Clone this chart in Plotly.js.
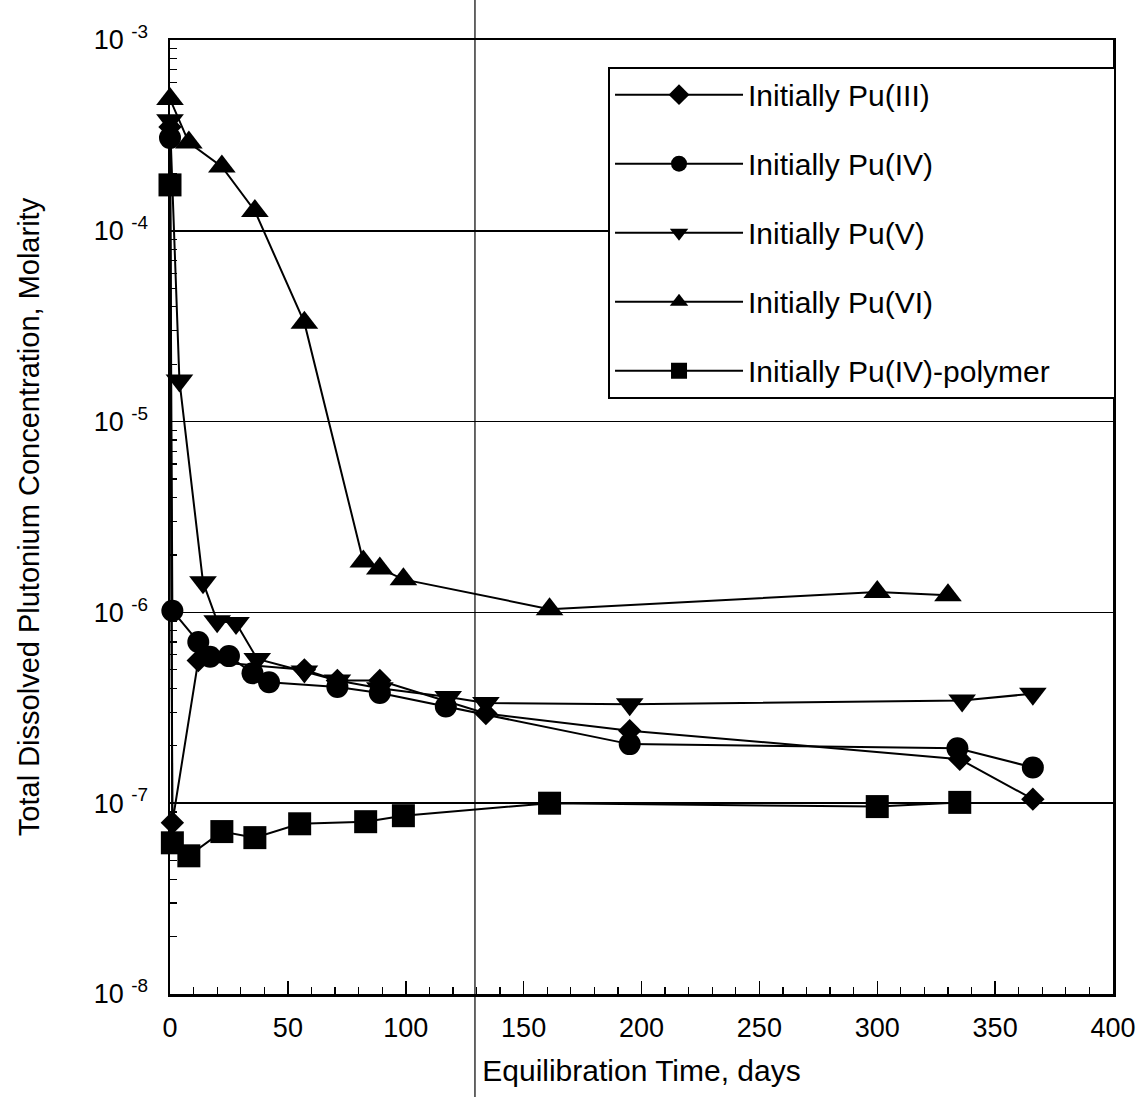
<!DOCTYPE html>
<html>
<head>
<meta charset="utf-8">
<script src="https://cdn.plot.ly/plotly-3.0.1.min.js"></script>
<style>
  html, body { margin: 0; padding: 0; background: #fff; }
  #chart { width: 1145px; height: 1097px; }
</style>
</head>
<body>
<div id="chart"></div>
<script>
// ---- Data ----
const seriesNames = ["Initially Pu(III)", "Initially Pu(IV)", "Initially Pu(V)", "Initially Pu(VI)", "Initially Pu(IV)-polymer"];

const puIIIDays = [0, 1, 12, 57, 71, 89, 134, 195, 335, 366];
const puIIIConc = [3.5e-4, 7.9e-8, 5.6e-7, 5.0e-7, 4.4e-7, 4.4e-7, 2.95e-7, 2.4e-7, 1.7e-7, 1.05e-7];

const puIVDays = [0, 1, 12, 17, 25, 35, 42, 71, 89, 117, 195, 334, 366];
const puIVConc = [3.07e-4, 1.02e-6, 7.0e-7, 5.85e-7, 5.9e-7, 4.8e-7, 4.3e-7, 4.07e-7, 3.78e-7, 3.21e-7, 2.04e-7, 1.94e-7, 1.54e-7];

const puVDays = [0, 4, 14, 20, 28, 37, 57, 71, 89, 118, 134, 195, 336, 366];
const puVConc = [3.8e-4, 1.64e-5, 1.44e-6, 9.0e-7, 8.8e-7, 5.7e-7, 4.9e-7, 4.4e-7, 4.0e-7, 3.6e-7, 3.35e-7, 3.3e-7, 3.45e-7, 3.75e-7];

const puVIDays = [0, 8, 22, 36, 57, 82, 89, 99, 161, 300, 330];
const puVIConc = [4.9e-4, 2.9e-4, 2.17e-4, 1.27e-4, 3.3e-5, 1.85e-6, 1.7e-6, 1.49e-6, 1.04e-6, 1.28e-6, 1.23e-6];

const polyDays = [0, 1, 8, 22, 36, 55, 83, 99, 161, 300, 335];
const polyConc = [1.74e-4, 6.2e-8, 5.3e-8, 7.1e-8, 6.6e-8, 7.8e-8, 8.0e-8, 8.6e-8, 1.0e-7, 9.6e-8, 1.01e-7];

const yTickVals = [1e-8, 1e-7, 1e-6, 1e-5, 1e-4, 1e-3];
const yTickText = ["10 <sup>-8</sup>", "10 <sup>-7</sup>", "10 <sup>-6</sup>", "10 <sup>-5</sup>", "10 <sup>-4</sup>", "10 <sup>-3</sup>"];
const xTickVals = [0, 50, 100, 150, 200, 250, 300, 350, 400];

// ---- Build traces ----
const xs = [puIIIDays, puIVDays, puVDays, puVIDays, polyDays];
const ys = [puIIIConc, puIVConc, puVConc, puVIConc, polyConc];
const symbols = ["diamond", "circle", "triangle-down", "triangle-up", "square"];
const sizes = [18, 22, 24, 24, 23];
const PAD = "\u00A0\u00A0\u00A0\u00A0\u00A0\u00A0\u00A0";

const traces = seriesNames.map((name, i) => ({
  type: "scatter",
  mode: "lines+markers",
  name: name + PAD,
  legendgroup: "g" + i,
  x: xs[i],
  y: ys[i],
  line: { color: "#000", width: 2 },
  marker: { symbol: symbols[i], size: sizes[i], color: "#000", line: { width: 0 } },
  cliponaxis: false
}));

// minor log ticks 2..9 per decade
const minorVals = [];
for (let e = -8; e < -3; e++) {
  for (let m = 2; m <= 9; m++) minorVals.push(m * Math.pow(10, e));
}

const FONT = "Liberation Sans, Arial, Helvetica, sans-serif";

const layout = {
  width: 1145,
  height: 1097,
  margin: { l: 170, r: 32, t: 40, b: 103 },
  paper_bgcolor: "#fff",
  plot_bgcolor: "#fff",
  font: { family: FONT, color: "#000", size: 26 },
  showlegend: true,
  legend: {
    x: 0.4645, y: 0.972, xanchor: "left", yanchor: "top",
    bgcolor: "#fff", bordercolor: "#000", borderwidth: 2,
    font: { family: FONT, size: 30, color: "#000" },
    traceorder: "grouped",
    tracegroupgap: 27,
    itemwidth: 128
  },
  xaxis: {
    range: [0, 400],
    tickmode: "array",
    tickvals: xTickVals,
    ticks: "inside", ticklen: 13, tickwidth: 1.5, tickcolor: "#000",
    minor: { tickmode: "linear", tick0: 0, dtick: 10, ticks: "inside", ticklen: 7, tickwidth: 1.2, tickcolor: "#000", showgrid: false },
    showline: true, linecolor: "#000", linewidth: 2.5, mirror: true,
    showgrid: false, zeroline: false,
    tickfont: { family: FONT, size: 27, color: "#000" },
    ticklabelstandoff: 8,
    title: { text: "Equilibration Time, days", font: { family: FONT, size: 30, color: "#000" }, standoff: 18 }
  },
  yaxis: {
    type: "log",
    range: [-8, -3],
    tickmode: "array",
    tickvals: yTickVals,
    ticktext: yTickText,
    ticks: "inside", ticklen: 13, tickwidth: 1.5, tickcolor: "#000",
    minor: { tickmode: "array", tickvals: minorVals, ticks: "inside", ticklen: 7, tickwidth: 1.2, tickcolor: "#000", showgrid: false },
    showline: true, linecolor: "#000", linewidth: 2.5, mirror: true,
    showgrid: true, gridcolor: "#000", gridwidth: 1.5,
    zeroline: false,
    tickfont: { family: FONT, size: 27, color: "#000" },
    ticklabelstandoff: 14,
    title: { text: "Total Dissolved Plutonium Concentration, Molarity", font: { family: FONT, size: 29, color: "#000" }, standoff: 46 }
  },
  shapes: [
    { type: "line", xref: "paper", yref: "paper", x0: 0.3234, x1: 0.3234, y0: -0.11, y1: 1.05,
      line: { color: "#000", width: 1.2 }, layer: "above" }
  ]
};

Plotly.newPlot("chart", traces, layout, { displayModeBar: false, staticPlot: true });
</script>
</body>
</html>
